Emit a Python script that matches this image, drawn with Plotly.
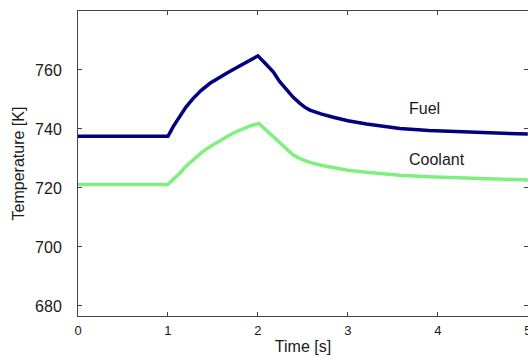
import plotly.graph_objects as go

time_fuel = [0.0, 1.0, 1.06, 1.133, 1.2, 1.281, 1.37, 1.467, 1.56, 1.652, 1.745, 1.837, 1.92, 2.0,
             2.08, 2.17, 2.24, 2.319, 2.39, 2.467, 2.52, 2.578, 2.7, 2.837, 3.0, 3.207, 3.4,
             3.578, 3.9, 4.319, 4.65, 5.0]
fuel_temp = [737.5, 737.5, 740.9, 744.2, 747.4, 750.4, 753.1, 755.5, 757.3, 758.9, 760.5, 762.0,
             763.5, 764.8, 762.3, 759.4, 756.1, 753.2, 750.8, 748.7, 747.4, 746.4, 745.1, 744.0,
             742.8, 741.7, 740.9, 740.2, 739.5, 738.9, 738.6, 738.3]

time_cool = [0.0, 1.0, 1.06, 1.133, 1.2, 1.281, 1.37, 1.467, 1.56, 1.652, 1.745, 1.837, 1.92, 2.01,
             2.1, 2.207, 2.3, 2.393, 2.48, 2.578, 2.7, 2.837, 3.0, 3.207, 3.4, 3.578, 3.9,
             4.319, 4.65, 5.0]
cool_temp = [721.2, 721.2, 723.0, 725.0, 727.4, 729.5, 731.9, 734.0, 735.8, 737.4, 738.9, 740.2,
             741.1, 741.9, 739.3, 736.3, 733.6, 731.2, 729.8, 728.7, 727.7, 726.9, 726.0, 725.3,
             724.7, 724.3, 723.8, 723.3, 723.0, 722.7]

x_ticks = [0, 1, 2, 3, 4, 5]
y_ticks = [680, 700, 720, 740, 760]

font = "Liberation Sans, Arial, sans-serif"
txt = "#1a1a1a"

fig = go.Figure()
fig.add_trace(go.Scatter(x=time_fuel, y=fuel_temp, mode="lines", name="Fuel",
                         line=dict(color="#000080", width=3.5)))
fig.add_trace(go.Scatter(x=time_cool, y=cool_temp, mode="lines", name="Coolant",
                         line=dict(color="#7ff07f", width=3.5)))

fig.add_annotation(x=3.66, y=747.0, text="Fuel", showarrow=False, xanchor="left",
                   font=dict(family=font, size=16, color=txt))
fig.add_annotation(x=3.66, y=729.5, text="Coolant", showarrow=False, xanchor="left",
                   font=dict(family=font, size=16, color=txt))

axis_common = dict(showgrid=False, zeroline=False, showline=True, linecolor="#444",
                   linewidth=1, mirror="ticks", ticks="inside", ticklen=4, tickcolor="#444",
                   ticklabeloverflow="allow", automargin=False)

fig.update_xaxes(range=[0, 5.002], tickvals=x_ticks, ticklabelstandoff=2,
                 tickfont=dict(family=font, size=13, color=txt),
                 title=dict(text="Time [s]", standoff=4,
                            font=dict(family=font, size=16, color=txt)), **axis_common)
fig.update_yaxes(range=[676.6, 780], tickvals=y_ticks, ticklabelstandoff=12,
                 tickfont=dict(family=font, size=16, color=txt),
                 title=dict(text="Temperature [K]", standoff=6,
                            font=dict(family=font, size=16, color=txt)), **axis_common)

fig.update_layout(width=528, height=357, margin=dict(l=78, r=0, t=11, b=41),
                  plot_bgcolor="white", paper_bgcolor="white", showlegend=False)

fig.write_html("out.html")
